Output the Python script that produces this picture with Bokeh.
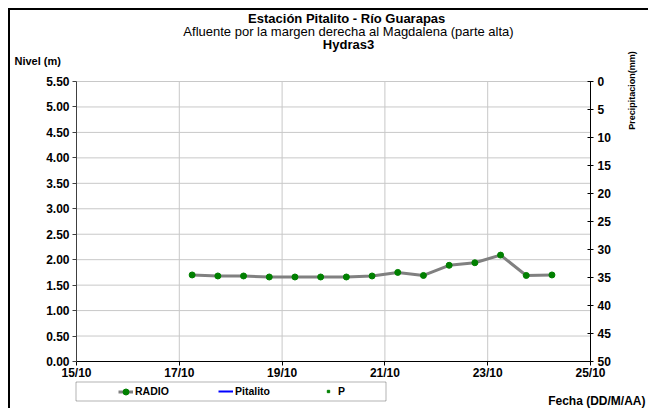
from bokeh.plotting import figure
from bokeh.models import (Range1d, LinearAxis, FixedTicker, Label, Legend,
                          LegendItem, BoxAnnotation)
from bokeh.embed import file_html
from bokeh.resources import INLINE
import math

NAN = float("nan")
# ---- data ----
dates = [17.25, 17.75, 18.25, 18.75, 19.25, 19.75, 20.25, 20.75,
         21.25, 21.75, 22.25, 22.75, 23.25, 23.75, 24.25]
radio = [1.70, 1.68, 1.68, 1.66, 1.66, 1.66, 1.66, 1.68,
         1.75, 1.69, 1.89, 1.94, 2.09, 1.69, 1.70]
pitalito = [NAN] * 15          # no readings in the period
precip = [NAN] * 15            # no readings in the period
x_ticks = [15, 17, 19, 21, 23, 25]
x_tick_labels = ["15/10", "17/10", "19/10", "21/10", "23/10", "25/10"]
y_ticks = [0.0, 0.5, 1.0, 1.5, 2.0, 2.5, 3.0, 3.5, 4.0, 4.5, 5.0, 5.5]
p_ticks = [0, 5, 10, 15, 20, 25, 30, 35, 40, 45, 50]

FONT = "Liberation Sans"
OFF = 10                      # page offset of the canvas (margin + border)
W, H = 640, 400
# plot area in page pixels
PL, PR, PT, PB = 76, 590, 81, 361
X0, X1 = x_ticks[0], x_ticks[-1]
Y0, Y1 = y_ticks[0], y_ticks[-1]
P0, P1 = p_ticks[0], p_ticks[-1]

def fx(px):   # page px -> x data
    return X0 + (px - PL) * (X1 - X0) / (PR - PL)

def fy(py):   # page py -> y data
    return Y1 - (py - PT) * (Y1 - Y0) / (PB - PT)

def yp(y):    # level value -> precipitation value (same pixel)
    return P1 - (y - Y0) * (P1 - P0) / (Y1 - Y0)

xr = Range1d(fx(OFF), fx(OFF + W))
yr = Range1d(fy(OFF + H), fy(OFF))

p = figure(width=W, height=H, output_backend="svg", toolbar_location=None,
           x_range=xr, y_range=yr, title=None,
           min_border=0, min_border_left=0, min_border_right=0,
           min_border_top=0, min_border_bottom=0)
p.styles = {"margin-left": "8px", "margin-top": "8px",
            "border-left": "2px solid black", "border-top": "2px solid black"}
p.outline_line_color = None
p.background_fill_color = "white"
p.border_fill_color = "white"
p.extra_y_ranges = {"prec": Range1d(yp(yr.start), yp(yr.end))}
p.grid.visible = False

# axes (fixed inside the full-canvas frame)
xa = p.xaxis[0]
ya = p.yaxis[0]
xa.fixed_location = Y0
ya.fixed_location = X0
xa.bounds = (X0, X1)
ya.bounds = (Y0, Y1)
xa.ticker = FixedTicker(ticks=x_ticks)
xa.major_label_overrides = {t: l for t, l in zip(x_ticks, x_tick_labels)}
ya.ticker = FixedTicker(ticks=y_ticks)
ya.major_label_overrides = {t: f"{t:.2f}" for t in y_ticks}

rax = LinearAxis(y_range_name="prec", ticker=FixedTicker(ticks=p_ticks),
                 fixed_location=X1, bounds=(P0, P1))
p.add_layout(rax, "right")

for ax in (xa, ya, rax):
    ax.major_label_text_font = FONT
    ax.major_label_text_font_style = "bold"
    ax.major_label_text_font_size = "12px"
    ax.major_label_text_color = "black"
    ax.minor_tick_line_color = None
    ax.major_tick_in = 0
    ax.major_tick_out = 4
    ax.major_label_standoff = 4
    ax.axis_line_color = "black"
    ax.major_tick_line_color = "black"
ya.axis_line_color = "#404040"
ya.major_tick_line_color = "#404040"
ya.major_label_standoff = 3
rax.major_tick_in = 3
rax.major_tick_out = 3
xa.major_label_standoff = 0

# grid lines inside the plot area
gx = x_ticks[1:-1]
p.segment(x0=gx, y0=[Y0] * len(gx), x1=gx, y1=[Y1] * len(gx),
          line_color="#c8c8c8", line_width=1)
gy = y_ticks[1:]
p.segment(x0=[X0] * len(gy), y0=gy, x1=[X1] * len(gy), y1=gy,
          line_color="#c8c8c8", line_width=1)

# series
r_line = p.line(dates, radio, line_color="#808080", line_width=3)
r_pts = p.scatter(dates, radio, marker="circle", size=6,
                  fill_color="#008000", line_color="#008000")
r_pit = p.line(dates, pitalito, line_color="#0000FF", line_width=2)
r_p = p.scatter(dates, precip, marker="square", size=3, fill_color="#008000",
                line_color="#008000", y_range_name="prec")

def lab(text, px, py, size="12px", bold=True, align="center", angle=0.0):
    p.add_layout(Label(x=fx(px), y=fy(py), text=text, text_font=FONT,
                       text_font_size=size,
                       text_font_style="bold" if bold else "normal",
                       text_align=align, text_baseline="middle",
                       text_color="black", angle=angle))

lab("Estación Pitalito  - Río Guarapas", 348, 18, size="13px")
lab("Afluente por la margen derecha al Magdalena (parte alta)", 348, 31,
    size="13px", bold=False)
lab("Hydras3", 348, 44, size="13px")
lab("Nivel (m)", 14, 60, size="11px", align="left")
lab("Precipitacion(mm)", 631, 90, size="9px", angle=math.pi / 2)
lab("Fecha (DD/M/AA)", 645, 400, size="12px", align="right")

# legend box (page x 75..386, y 381..401)
p.add_layout(BoxAnnotation(left=fx(75.5), right=fx(385.5), top=fy(381.5),
                           bottom=fy(400.5), fill_color="white", fill_alpha=1,
                           line_color="black", line_width=1))

def item_legend(label, rends, gx_page, gw, gh, standoff):
    lg = Legend(items=[LegendItem(label=label, renderers=rends)],
                location=(gx_page - OFF, OFF + H - 391 - gh / 2),
                orientation="horizontal", padding=0,
                margin=0, spacing=0, glyph_width=gw, glyph_height=gh,
                label_height=gh, label_width=5, label_standoff=standoff,
                border_line_alpha=0, background_fill_alpha=0,
                label_text_font=FONT, label_text_font_style="bold",
                label_text_font_size="10.5px", label_text_color="black")
    p.add_layout(lg, "center")

item_legend("RADIO", [r_line, r_pts], 118, 15, 15, 2)
item_legend("Pitalito", [r_pit], 218, 15, 12, 2)
item_legend("P", [r_p], 325, 6, 12, 7)

open("out.html", "w").write(file_html(p, INLINE))
